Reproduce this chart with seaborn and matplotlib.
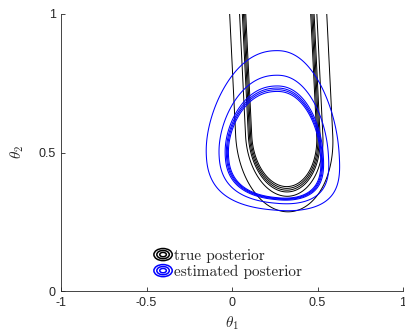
import numpy as np
import matplotlib
matplotlib.use("Agg")
import matplotlib.pyplot as plt
import seaborn as sns
from matplotlib.legend_handler import HandlerBase
from matplotlib.lines import Line2D
from matplotlib.patches import Ellipse

# ---------------------- data ----------------------

# true posterior: banana shape, open towards large theta2
true_shift = [0.35, -0.08]      # centre line  theta1 = a + b * theta2
true_halfwidth = 0.19
true_bend = 0.184               # depth of the rounded bottom
true_knee = 0.561               # theta2 where the sides become straight
true_levels = [1.0, 1.035, 1.07, 1.105, 1.19, 1.495]

# estimated posterior: rounded blob in (theta1, log(theta2 - offset))
est_center = [0.26, -0.958]
est_scale_left = 0.31
est_scale_right = 0.265
est_scale_log = 0.512
est_offset = 0.1
est_skew = 0.3
est_levels = [0.87, 0.91, 0.95, 1.0, 1.27, 1.95]

xticks = [-1, -0.5, 0, 0.5, 1]
yticks = [0, 0.5, 1]
legend_labels = ["true posterior", "estimated posterior"]
colors = ["black", "blue"]

# ---------------------- style ----------------------

sns.set_style("ticks")
plt.rcParams["font.family"] = ["Liberation Sans", "DejaVu Sans"]
plt.rcParams["mathtext.fontset"] = "cm"


class RingHandler(HandlerBase):
    # concentric ellipses, like matlab's contour legend icon
    def create_artists(self, legend, orig_handle, xdescent, ydescent,
                       width, height, fontsize, trans):
        cx = width / 2 - xdescent
        cy = height / 2 - ydescent
        arts = []
        for f in (1.0, 0.68, 0.36):
            e = Ellipse((cx, cy), width * f, width * 0.66 * f, fill=False,
                        ec=orig_handle.get_color(), lw=1.1)
            e.set_transform(trans)
            arts.append(e)
        return arts


# ---------------------- grid ----------------------

x = np.linspace(-1, 1, 700)
y = np.linspace(0, 1.05, 700)
X, Y = np.meshgrid(x, y)

mid = true_shift[0] + true_shift[1] * Y
P = (X - mid) / true_halfwidth
V = np.minimum(0, Y - true_knee) / true_bend
g_true = np.sqrt(P ** 2 + V ** 2)

U = np.log(np.clip(Y - est_offset, 1e-6, None))
dx = X - est_center[0]
A = np.where(dx < 0, dx / est_scale_left, dx / est_scale_right)
B = (U - est_center[1]) / est_scale_log
B_low = (B - np.sqrt(B ** 2 + 0.25)) / 2      # smooth lower half
g_est = np.abs(A) ** 2.2 + np.abs(B) ** 2.2 + est_skew * A * B_low

# ---------------------- plot ----------------------

fig, ax = plt.subplots(figsize=(4.05, 3.33), dpi=100)
fig.subplots_adjust(left=0.151, right=0.995, bottom=0.126, top=0.958)

ax.contour(X, Y, g_true, levels=true_levels, colors=colors[0], linewidths=0.7)
ax.contour(X, Y, g_est, levels=est_levels, colors=colors[1], linewidths=0.75)

ax.set_xlim(-1, 1)
ax.set_ylim(0, 1)
ax.set_xticks(xticks)
ax.set_xticklabels(["-1", "-0.5", "0", "0.5", "1"])
ax.set_yticks(yticks)
ax.set_yticklabels(["0", "0.5", "1"])
ax.tick_params(direction="in", length=3, width=0.6, labelsize=9,
               colors="#262626", pad=4)
sns.despine(ax=ax)
for s in ["left", "bottom"]:
    ax.spines[s].set_color("#262626")
    ax.spines[s].set_linewidth(0.6)

ax.set_xlabel(r"$\theta_1$", fontsize=11, labelpad=4)
ax.set_ylabel(r"$\theta_2$", fontsize=11, labelpad=9)

handles = [Line2D([], [], color=c) for c in colors]
ax.legend(handles, legend_labels, handler_map={Line2D: RingHandler()},
          loc="lower left", bbox_to_anchor=(0.24, 0.005), frameon=False,
          prop={"family": "cmr10", "size": 11}, handlelength=1.2,
          handletextpad=0.1, labelspacing=0.12, borderpad=0.2)

plt.savefig("out.png", dpi=100)
